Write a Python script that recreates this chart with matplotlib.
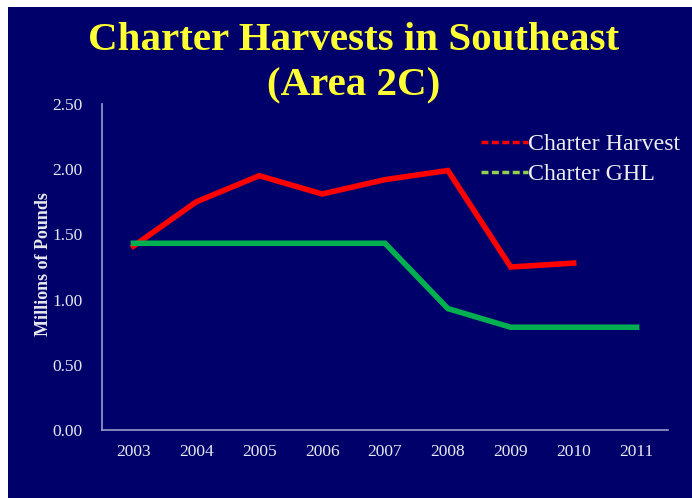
import matplotlib
matplotlib.use("Agg")
import matplotlib.pyplot as plt
from matplotlib.lines import Line2D
from matplotlib.patches import Rectangle

years = ["2003", "2004", "2005", "2006", "2007", "2008", "2009", "2010", "2011"]
harvest = [1.41, 1.75, 1.95, 1.81, 1.92, 1.99, 1.25, 1.28]
ghl = [1.432, 1.432, 1.432, 1.432, 1.432, 0.931, 0.788, 0.788, 0.788]

navy = "#00006a"
spine_col = "#9a9acc"
serif = ["Liberation Serif", "DejaVu Serif"]

fig = plt.figure(figsize=(6.92, 4.98), dpi=100, facecolor="white")
fig.patches.append(Rectangle((8 / 692, 0), 1, 1 - 7 / 498, transform=fig.transFigure,
                             facecolor=navy, edgecolor="none", zorder=-5))

ax = fig.add_axes([102 / 692, 1 - 430 / 498, 566 / 692, 326 / 498])
ax.set_facecolor(navy)

x = list(range(len(years)))
ax.plot(x[:len(harvest)], harvest, color="#ff0000", lw=4, solid_joinstyle="miter")
ax.plot(x, ghl, color="#00b050", lw=4, solid_joinstyle="miter")

ax.set_xlim(-0.5, len(years) - 0.5)
ax.set_ylim(0, 2.5)
ax.set_xticks(x)
ax.set_xticklabels(years)
ax.set_yticks([0, 0.5, 1.0, 1.5, 2.0, 2.5])
ax.set_yticklabels(["%.2f" % v for v in ax.get_yticks()])
ax.tick_params(length=0, colors="#e8e8f0", labelsize=12.5)
ax.tick_params(axis="y", pad=14)
ax.tick_params(axis="x", pad=10)
for lab in ax.get_xticklabels() + ax.get_yticklabels():
    lab.set_family(serif)

for s in ["top", "right"]:
    ax.spines[s].set_visible(False)
for s in ["left", "bottom"]:
    ax.spines[s].set_color(spine_col)
    ax.spines[s].set_linewidth(1.2)

fig.text(44 / 692, 1 - 264 / 498, "Millions of Pounds", rotation=90, ha="center", va="center",
         color="#e8e8f0", fontsize=13, fontweight="bold", family=serif)

fig.text(354 / 692, 1 - 41 / 498, "Charter Harvests in Southeast", ha="center", va="center",
         color="#ffff33", fontsize=29.5, fontweight="bold", family=serif)
fig.text(354 / 692, 1 - 86 / 498, "(Area 2C)", ha="center", va="center",
         color="#ffff33", fontsize=29.5, fontweight="bold", family=serif)

handles = [Line2D([], [], color="#ff0000", lw=2.5, ls=(0, (2, 1))),
           Line2D([], [], color="#92d050", lw=2.5, ls=(0, (2, 1)))]
leg = fig.legend(handles, ["Charter Harvest", "Charter GHL"], loc="upper left",
                 bbox_to_anchor=(459 / 692, 1 - 112 / 498), frameon=False,
                 handlelength=2.0, handletextpad=0.0, labelspacing=0.35,
                 prop={"family": serif, "size": 17.2})
for t in leg.get_texts():
    t.set_color("#eeeeee")

fig.savefig("out.png", dpi=100, facecolor=fig.get_facecolor())
